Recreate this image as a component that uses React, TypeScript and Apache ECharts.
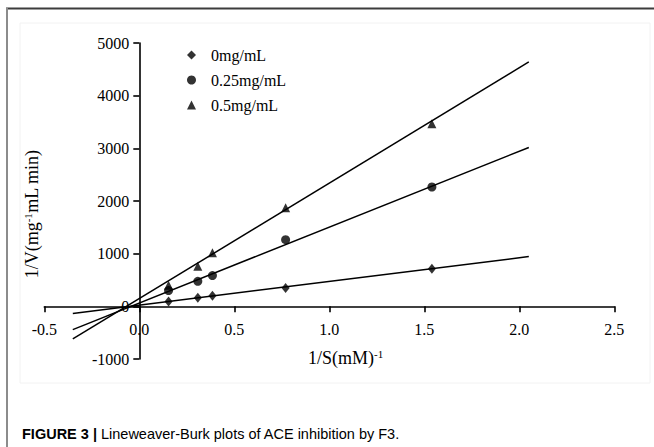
import React, { useEffect, useRef } from "react";
import * as echarts from "echarts";

// Lineweaver-Burk data: 1/S (mM^-1) against 1/V for three inhibitor levels
const seriesNames = ["0mg/mL", "0.25mg/mL", "0.5mg/mL"];
const seriesSymbols = ["diamond", "circle", "triangle"];
const invS = [0.154, 0.308, 0.385, 0.77, 1.54];
const invV0 = [90, 165, 203, 349, 715];
const invV025 = [300, 475, 585, 1266, 2266];
const invV05 = [400, 759, 1018, 1872, 3467];

// Regression line end points [1/S, 1/V]
const fit0 = [[-0.35, -135], [2.05, 945]];
const fit025 = [[-0.35, -442], [2.05, 3017]];
const fit05 = [[-0.35, -619], [2.05, 4640]];

const xMin = -0.5;
const xMax = 2.5;
const xStep = 0.5;
const yMin = -1000;
const yMax = 5000;
const yStep = 1000;

const SERIF = "'Liberation Serif', 'Times New Roman', serif";
const SANS = "'Liberation Sans', Arial, Helvetica, sans-serif";

// plot rectangle
const GRID_LEFT = 44.3;
const GRID_RIGHT = 39.7;
const GRID_TOP = 43;
const GRID_BOTTOM = 88;
const W = 654;
const H = 447;

export default function App() {
  const ref = useRef<HTMLDivElement>(null);

  useEffect(() => {
    document.body.style.margin = "0";
    const chart = echarts.init(ref.current!, null, { renderer: "svg" });

    const pointSets = [invV0, invV025, invV05];
    const fits = [fit0, fit025, fit05];
    const symbolSizes: any[] = [[8, 10], 9, 9];

    // place both axes through the origin
    const plotW = W - GRID_LEFT - GRID_RIGHT;
    const plotH = H - GRID_TOP - GRID_BOTTOM;
    const yAxisShift = ((0 - xMin) / (xMax - xMin)) * plotW;
    const xAxisShift = ((0 - yMin) / (yMax - yMin)) * plotH;

    const scatterSeries = seriesNames.map((name, i) => ({
      name,
      type: "scatter",
      symbol: seriesSymbols[i],
      symbolSize: symbolSizes[i],
      itemStyle: { color: "#000" },
      data: invS.map((x, k) => [x, pointSets[i][k]]),
      z: 5,
    }));

    const lineSeries = fits.map((f, i) => ({
      name: "fit-" + seriesNames[i],
      type: "line",
      showSymbol: false,
      symbol: "none",
      lineStyle: { color: "#000", width: 1.5 },
      data: f,
      z: 4,
    }));

    const sup = { fontSize: 11, fontFamily: SERIF, color: "#000", padding: [0, 0, 9, 0] };

    chart.setOption({
      animation: false,
      backgroundColor: "#fff",
      grid: {
        left: GRID_LEFT,
        right: GRID_RIGHT,
        top: GRID_TOP,
        bottom: GRID_BOTTOM,
        containLabel: false,
        outerBoundsMode: "none",
      },
      legend: {
        orient: "vertical",
        left: 182,
        top: 42,
        itemWidth: 9,
        itemHeight: 9,
        itemGap: 9,
        data: seriesNames.map((n, i) => ({ name: n, icon: seriesSymbols[i] })),
        textStyle: {
          fontFamily: SERIF,
          fontSize: 16,
          color: "#000",
          padding: [0, 0, 0, 10],
        },
      },
      xAxis: {
        type: "value",
        min: xMin,
        max: xMax,
        interval: xStep,
        position: "bottom",
        offset: -xAxisShift,
        splitLine: { show: false },
        axisLine: { onZero: false, lineStyle: { color: "#000", width: 1.6 } },
        axisTick: { show: true, length: 6, lineStyle: { color: "#000", width: 1.6 } },
        axisLabel: {
          margin: 15,
          fontFamily: SERIF,
          fontSize: 16,
          color: "#000",
          formatter: (v: number) => v.toFixed(1),
        },
      },
      yAxis: {
        type: "value",
        min: yMin,
        max: yMax,
        interval: yStep,
        position: "left",
        offset: -yAxisShift,
        splitLine: { show: false },
        axisLine: { onZero: false, lineStyle: { color: "#000", width: 1.6 } },
        axisTick: { show: true, length: 6, lineStyle: { color: "#000", width: 1.6 } },
        axisLabel: {
          margin: 10,
          fontFamily: SERIF,
          fontSize: 16,
          color: "#000",
          formatter: (v: number) => String(v),
        },
      },
      series: [...lineSeries, ...scatterSeries],
      graphic: [
        {
          type: "rect",
          silent: true,
          shape: { x: 20, y: 23, width: 630, height: 360 },
          style: { fill: "none", stroke: "#f2f2f2", lineWidth: 1 },
          z: -1,
        },
        {
          type: "line",
          silent: true,
          shape: { x1: 6, y1: 8.5, x2: 654, y2: 8.5 },
          style: { stroke: "#3c3c3c", lineWidth: 2 },
        },
        {
          type: "line",
          silent: true,
          shape: { x1: 7, y1: 8, x2: 7, y2: 447 },
          style: { stroke: "#8c8c8c", lineWidth: 2 },
        },
        {
          type: "text",
          silent: true,
          x: 32,
          y: 214,
          rotation: Math.PI / 2,
          style: {
            text: "{a|1/V(mg}{s|-1}{a|mL min)}",
            align: "center",
            verticalAlign: "middle",
            rich: {
              a: { fontSize: 18, fontFamily: SERIF, color: "#000" },
              s: sup,
            },
          },
        },
        {
          type: "text",
          silent: true,
          x: 308,
          y: 358,
          style: {
            text: "{a|1/S(mM)}{s|-1}",
            align: "left",
            verticalAlign: "middle",
            rich: {
              a: { fontSize: 18, fontFamily: SERIF, color: "#000" },
              s: sup,
            },
          },
        },
        {
          type: "text",
          silent: true,
          x: 22,
          y: 434,
          style: {
            text: "{b|FIGURE 3 |}{n| Lineweaver-Burk plots of ACE inhibition by F3.}",
            align: "left",
            verticalAlign: "middle",
            rich: {
              b: { fontSize: 14.5, fontFamily: SANS, fontWeight: "bold", color: "#222" },
              n: { fontSize: 14.5, fontFamily: SANS, color: "#333" },
            },
          },
        },
      ],
    });

    return () => chart.dispose();
  }, []);

  return (
    <div
      ref={ref}
      style={{ position: "fixed", left: 0, top: 0, width: W, height: H }}
    />
  );
}
